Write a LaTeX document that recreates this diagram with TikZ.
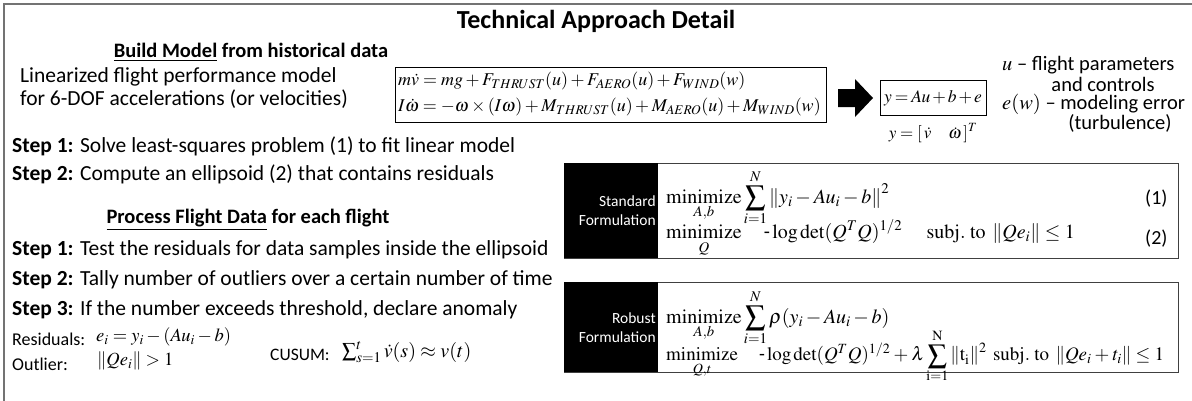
\documentclass[tikz,border=0pt]{standalone}
\usepackage{mathptmx}
\usepackage[no-math]{fontspec}
\setmainfont{Carlito}
\tikzset{
  txt/.style={inner sep=0pt, anchor=west, font=\fontsize{21.5}{25}\selectfont},
  note/.style={inner sep=0pt, font=\fontsize{20.5}{24}\selectfont},
  small/.style={inner sep=0pt, anchor=west, font=\fontsize{18}{22}\selectfont},
  hdr/.style={inner sep=0pt, font=\fontsize{20.5}{24}\selectfont\bfseries},
  mth/.style={inner sep=0pt, font=\fontsize{18}{22}\selectfont},
  fmth/.style={inner sep=0pt, anchor=west, font=\fontsize{20}{24}\selectfont},
  smth/.style={inner sep=0pt, anchor=west, font=\fontsize{18.5}{22}\selectfont},
  eqbox/.style={draw=black, line width=0.9pt},
  formbox/.style={draw=black!75, line width=1.3pt, fill=white},
  lbl/.style={fill=black, text=white, align=right, inner sep=0pt, font=\fontsize{15.5}{19}\selectfont}
}
\begin{document}
\begin{tikzpicture}[x=1pt,y=-1pt]
\useasboundingbox (0,0) rectangle (1192,400);
% outer frame
\draw[black!55, line width=2.5pt] (4,405) -- (4,4) -- (1196,4);
% title
\node[inner sep=0pt, font=\fontsize{26}{30}\selectfont\bfseries] (title) at (596,21) {Technical Approach Detail};
% build model
\node[hdr] (bm) at (251,52) {\underline{Build Model} from historical data};
\node[txt] (lin1) at (20,77) {Linearized flight performance model};
\node[txt] (lin2) at (20,99) {for 6-DOF accelerations (or velocities)};
% equations box
\node[eqbox, minimum width=431pt, minimum height=55pt, anchor=north west] (eqb) at (395,67) {};
\node[mth, anchor=west] (eq1) at (398,81) {$m\dot v = mg + F_{THRUST}(u) + F_{AERO}(u) + F_{WIND}(w)$};
\node[mth, anchor=west] (eq2) at (398,107) {$\medmuskip=2.5mu I\dot\omega = -\omega\times(I\omega) + M_{THRUST}(u) + M_{AERO}(u) + M_{WIND}(w)$};
% arrow
\fill[black] (838,89) -- (855,89) -- (855,79) -- (873,98) -- (855,117) -- (855,107) -- (838,107) -- cycle;
% linear model
\node[eqbox, minimum width=106pt, minimum height=35pt, inner sep=0pt, font=\fontsize{17.5}{20}\selectfont] (lm) at (933,98) {$\medmuskip=2mu\thickmuskip=3mu y = Au + b + e$};
\node[inner sep=0pt, font=\fontsize{17}{20}\selectfont] (yv) at (933,133) {$y = \left[\,\dot v\quad \dot\omega\,\right]^T$};
% right notes
\node[note, anchor=west] (n1) at (1002,65) {$u$ -- flight parameters};
\node[note] (n2) at (1103,84) {and controls};
\node[note, anchor=west] (n3) at (1002,104) {$e(w)$ -- modeling error};
\node[note] (n4) at (1120,123) {(turbulence)};
% steps build
\node[txt] (s1) at (12,146) {\textbf{Step 1:} Solve least-squares problem (1) to fit linear model};
\node[txt] (s2) at (12,174) {\textbf{Step 2:} Compute an ellipsoid (2) that contains residuals};
% process
\node[hdr] (pf) at (248,220) {\underline{Process Flight Data} for each flight};
\node[txt] (p1) at (12,250) {\textbf{Step 1:} Test the residuals for data samples inside the ellipsoid};
\node[txt] (p2) at (12,280) {\textbf{Step 2:} Tally number of outliers over a certain number of time};
\node[txt] (p3) at (12,310) {\textbf{Step 3:} If the number exceeds threshold, declare anomaly};
\node[small] (res) at (12,339) {Residuals:};
\node[small] (out) at (12,364) {Outlier:};
\node[smth] (rese) at (96,337) {$e_i = y_i - (Au_i - b)$};
\node[smth] (oute) at (97,361) {$\left\| Qe_i \right\| > 1$};
\node[small, font=\fontsize{17.5}{21}\selectfont] (cus) at (270,355) {CUSUM:};
\node[smth, font=\fontsize{20}{24}\selectfont] (cuse) at (342,352) {$\sum_{s=1}^{t} \dot v(s) \approx v(t)$};
% standard formulation
\node[formbox, minimum width=614pt, minimum height=95pt, anchor=north west] (std) at (564,163) {};
\node[lbl, minimum width=94pt, minimum height=95pt, anchor=north west, text width=89pt] (stdl) at (564,163) {Standard\\Formulation};
\node[fmth] (se1) at (666,198) {$\displaystyle \mathop{\mathrm{minimize}}\limits_{A,b} \sum_{i=1}^{N} \left\| y_i - Au_i - b \right\|^2$};
\node[txt, font=\fontsize{20}{24}\selectfont] (n1l) at (1145,199) {(1)};
\node[fmth] (se2) at (666,238) {$\displaystyle \mathop{\mathrm{minimize}}\limits_{Q}\quad \mbox{-}\log\det(Q^TQ)^{1/2}\quad\; \mathrm{subj.\ to}\ \left\| Qe_i \right\| \le 1$};
\node[txt, font=\fontsize{20}{24}\selectfont] (n2l) at (1145,239) {(2)};
% robust formulation
\node[formbox, minimum width=614pt, minimum height=90pt, anchor=north west] (rob) at (564,282) {};
\node[lbl, minimum width=94pt, minimum height=90pt, anchor=north west, text width=89pt] (robl) at (564,282) {Robust\\Formulation};
\node[fmth] (re1) at (666,318) {$\displaystyle \mathop{\mathrm{minimize}}\limits_{A,b} \sum_{i=1}^{N} \rho(y_i - Au_i - b)$};
\node[fmth, font=\fontsize{19}{23}\selectfont] (re2) at (666,356) {$\displaystyle \medmuskip=3mu \mathop{\mathrm{minimize}}\limits_{Q,t}\quad \mbox{-}\log\det(Q^TQ)^{1/2} + \lambda \sum_{\mathrm{i=1}}^{\mathrm{N}} \left\| \mathrm{t_i} \right\|^2\ \mathrm{subj.\ to}\ \left\| Qe_i + t_i \right\| \le 1$};
\end{tikzpicture}
\end{document}
